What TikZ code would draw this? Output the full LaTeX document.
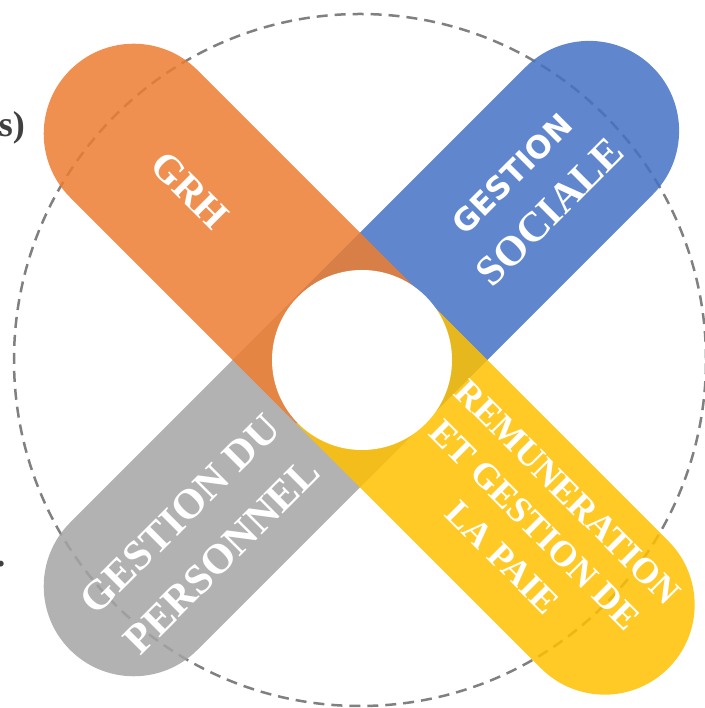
\documentclass[tikz,border=0pt]{standalone}
\usepackage{fontspec}
\setmainfont{Liberation Serif}
\newfontfamily\sansbold{DejaVu Sans}
\definecolor{cOrange}{HTML}{ED7D31}
\definecolor{cBlue}{HTML}{4472C4}
\definecolor{cGray}{HTML}{A5A5A5}
\definecolor{cGold}{HTML}{FFC000}
\definecolor{cDash}{HTML}{808080}
\definecolor{cText}{HTML}{404040}
\begin{document}
\begin{tikzpicture}[x=1pt,y=1pt,
  pill/.style={fill opacity=0.85},
  dashcirc/.style={draw=cDash,line width=2.5pt,dash pattern=on 11pt off 7pt},
  lbl/.style={text=white,inner sep=0pt,anchor=center,font=\bfseries},
  hub/.style={circle,fill=white,minimum size=180pt,inner sep=0pt}]
\useasboundingbox (0,0) rectangle (704,708);
\coordinate (C) at (360,348);
\draw[dashcirc] (360,348) circle[radius=346];
% pills
\begin{scope}[shift={(C)},rotate=45]
  \fill[pill,cBlue] (0,-90) -- (324,-90) arc[start angle=-90,end angle=90,radius=90] -- (0,90) -- cycle;
\end{scope}
\begin{scope}[shift={(C)},rotate=225]
  \fill[pill,cGray] (0,-90) -- (320,-90) arc[start angle=-90,end angle=90,radius=90] -- (0,90) -- cycle;
\end{scope}
\begin{scope}[shift={(C)},rotate=135]
  \fill[pill,cOrange] (0,-90) -- (320,-90) arc[start angle=-90,end angle=90,radius=90] -- (0,90) -- cycle;
\end{scope}
\begin{scope}[shift={(C)},rotate=-45]
  \fill[pill,cGold] (0,-90) -- (346,-90) arc[start angle=-90,end angle=90,radius=90] -- (0,90) -- cycle;
\end{scope}
\node[hub] (hub) at (362,348) {};
% labels
\node[lbl,rotate=-45,font=\bfseries\fontsize{40}{48}\selectfont] (grh) at (190,518) {GRH};
\node[lbl,rotate=45,font=\sansbold\bfseries\fontsize{31}{38}\selectfont] (gs1) at (512,534) {GESTION};
\node[lbl,rotate=45,font=\bfseries\fontsize{42}{50}\selectfont] (gs2) at (550,496) {SOCIALE};
\node[lbl,rotate=45,font=\bfseries\fontsize{42}{50}\selectfont] (gp1) at (180,194) {GESTION DU};
\node[lbl,rotate=45,font=\bfseries\fontsize{42}{50}\selectfont] (gp2) at (222,152) {PERSONNEL};
\node[lbl,rotate=-45,font=\bfseries\fontsize{36}{44}\selectfont] (rp1) at (567.5,215.5) {REMUNERATION};
\node[lbl,rotate=-45,font=\bfseries\fontsize{36}{44}\selectfont] (rp2) at (535,183) {ET GESTION DE};
\node[lbl,rotate=-45,font=\bfseries\fontsize{36}{44}\selectfont] (rp3) at (502.5,150.5) {LA PAIE};
% cut-off fragments at left edge
\node[text=cText,inner sep=0pt,anchor=base east,font=\bfseries\fontsize{36}{44}\selectfont] (frag1) at (25,571) {s)};
\node[text=cText,inner sep=0pt,anchor=center,font=\bfseries\fontsize{36}{44}\selectfont] (frag2) at (1,144) {.};
\end{tikzpicture}
\end{document}
